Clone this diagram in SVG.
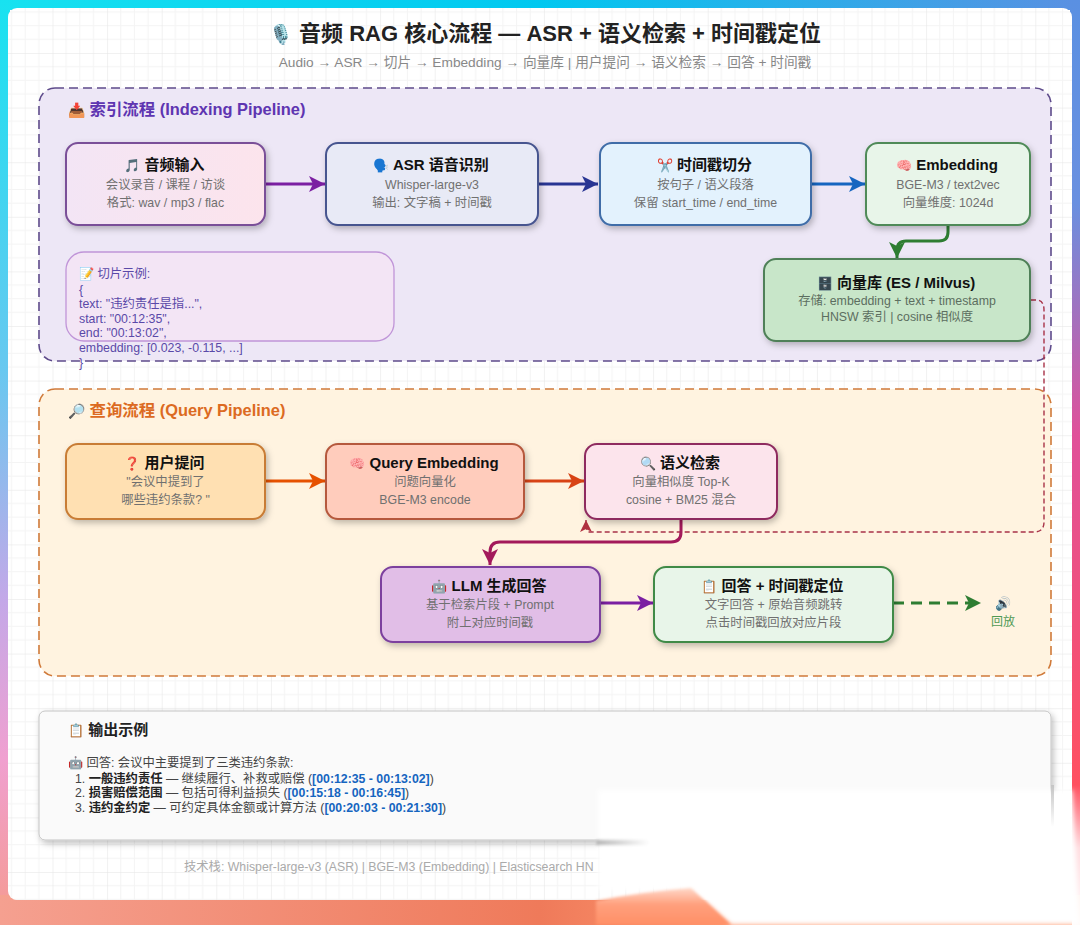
<svg xmlns="http://www.w3.org/2000/svg" width="1080" height="925" viewBox="0 0 1080 925">
<style>
text{font-family:"Liberation Sans","Noto Sans CJK SC",sans-serif}
.t{font-size:15px;font-weight:700;fill:#111;text-anchor:middle}
.e{font-size:13px}
.s{font-size:12.35px;fill:#707070;text-anchor:middle}
.d{fill:#5c6e60}
.n{filter:url(#sh);stroke-width:2}
.c{fill:none;stroke-width:3}
.ex{font-size:12.35px;fill:#5a49a8}
.o{font-size:12.3px;fill:#444}
.ts{font-weight:700;fill:#1565c0}
.bd{font-weight:700;fill:#222}
</style>
<defs>
<linearGradient id="gt"><stop offset="0" stop-color="#18e2f0"/><stop offset=".5" stop-color="#00c8f0"/><stop offset="1" stop-color="#5a90e2"/></linearGradient>
<linearGradient id="gl" x2="0" y2="1"><stop offset="0" stop-color="#18e2f0"/><stop offset=".4" stop-color="#68c8f0"/><stop offset=".65" stop-color="#c4a8e8"/><stop offset=".82" stop-color="#f0a0d0"/><stop offset="1" stop-color="#f59a90"/></linearGradient>
<linearGradient id="gr" x2="0" y2="1"><stop offset="0" stop-color="#5a90e2"/><stop offset=".22" stop-color="#6a90e0"/><stop offset=".47" stop-color="#e0509a"/><stop offset=".85" stop-color="#ff5060"/><stop offset="1" stop-color="#ff5060"/></linearGradient>
<linearGradient id="gb"><stop offset="0" stop-color="#f5a090"/><stop offset=".5" stop-color="#ef7a5a"/><stop offset=".68" stop-color="#ff9a70"/></linearGradient>
<linearGradient id="f1" x2="1"><stop offset="0" stop-color="#f3e5f5"/><stop offset="1" stop-color="#fce4ec"/></linearGradient>
<linearGradient id="fr" x2="0" y2="1"><stop offset="0" stop-color="#fff" stop-opacity="0"/><stop offset=".45" stop-color="#fff" stop-opacity=".8"/><stop offset="1" stop-color="#fff" stop-opacity=".95"/></linearGradient>
<linearGradient id="fs"><stop offset="0" stop-color="#b4b4b4"/><stop offset="1" stop-color="#fff"/></linearGradient>
<linearGradient id="fv" x2="0" y2="1"><stop offset="0" stop-color="#c4c4c4"/><stop offset="1" stop-color="#fff"/></linearGradient>
<linearGradient id="fo" x2="0" y2="1"><stop offset="0" stop-color="#ffd8c8"/><stop offset=".45" stop-color="#ff9f7c"/><stop offset="1" stop-color="#ff8f66"/></linearGradient>
<pattern id="grid" width="54.6" height="54.6" patternUnits="userSpaceOnUse" x="-2.1" y="-1.6">
<path d="M13.65 0V54.6M27.3 0V54.6M40.95 0V54.6M0 13.65H54.6M0 27.3H54.6M0 40.95H54.6" stroke="#f4f4f4" stroke-width="1" fill="none"/>
<path d="M0 0V54.6M0 0H54.6" stroke="#e4e4e4" stroke-width="1" fill="none"/>
</pattern>
<filter id="sh" x="-10%" y="-15%" width="125%" height="135%"><feDropShadow dx="2" dy="3" stdDeviation="3" flood-color="#000" flood-opacity=".25"/></filter>
<filter id="b3" x="-10%" y="-10%" width="120%" height="120%"><feGaussianBlur stdDeviation="2.5"/></filter>
<filter id="b2" x="-30%" y="-200%" width="160%" height="500%"><feGaussianBlur stdDeviation="1.5"/></filter>
<marker id="ap" markerUnits="userSpaceOnUse" markerWidth="17" markerHeight="17" refX="16" refY="8" orient="auto"><path d="M0 0L16 8L0 16L4 8Z" fill="context-stroke"/></marker>
<marker id="ar" markerUnits="userSpaceOnUse" markerWidth="13" markerHeight="13" refX="12" refY="6" orient="auto"><path d="M0 0L12 6L0 12L3 6Z" fill="#b03040"/></marker>
</defs>

<rect width="1080" height="10" fill="url(#gt)"/>
<rect y="0" width="10" height="925" fill="url(#gl)"/>
<rect x="1070" y="0" width="10" height="925" fill="url(#gr)"/>
<rect y="895" width="1080" height="30" fill="url(#gb)"/>
<rect x="8" y="8" width="1064" height="892" rx="9" fill="#fff"/>
<rect x="8" y="8" width="1064" height="892" rx="9" fill="url(#grid)"/>

<text x="545" y="41" font-size="22" font-weight="700" fill="#222" text-anchor="middle"><tspan font-size="19">🎙️</tspan> 音频 RAG 核心流程 — ASR + 语义检索 + 时间戳定位</text>
<text x="545" y="67" font-size="13.7" fill="#888" text-anchor="middle">Audio → ASR → 切片 → Embedding → 向量库 | 用户提问 → 语义检索 → 回答 + 时间戳</text>

<g id="indexing-group">
<rect x="39" y="88" width="1012" height="273" rx="16" fill="#ede7f6" stroke="#5e4b8b" stroke-width="1.6" stroke-dasharray="9 5"/>
<text x="68" y="115" font-size="16.4" font-weight="700" fill="#5e35b1"><tspan font-size="14">📥</tspan> 索引流程 (Indexing Pipeline)</text>
</g>
<g id="query-group">
<rect x="39" y="389" width="1012" height="287" rx="16" fill="#fff3e0" stroke="#d07a3a" stroke-width="1.6" stroke-dasharray="9 5"/>
<text x="68" y="416" font-size="16.4" font-weight="700" fill="#dc6a22"><tspan font-size="14">🔎</tspan> 查询流程 (Query Pipeline)</text>
</g>

<g id="connectors">
<path class="c" d="M265 184H325" stroke="#7b1fa2" marker-end="url(#ap)"/>
<path class="c" d="M538 184H598" stroke="#283593" marker-end="url(#ap)"/>
<path class="c" d="M811 184H865" stroke="#1565c0" marker-end="url(#ap)"/>
<path class="c" d="M948 225V232Q948 241 939 241H906Q897 241 897 250V258" stroke="#2e7d32" marker-end="url(#ap)"/>
<path fill="none" stroke="#a83248" stroke-width="1.4" stroke-dasharray="5 3" d="M1031 300H1036Q1044 300 1044 310V522Q1044 532 1034 532H590Q586 532 586 526V520" marker-end="url(#ar)"/>
<path class="c" d="M265 481H325" stroke="#e65100" marker-end="url(#ap)"/>
<path class="c" d="M525 481H584" stroke="#d84315" marker-end="url(#ap)"/>
<path class="c" d="M681 519V532Q681 542 671 542H500Q490 542 490 552V565" stroke="#a3195b" marker-end="url(#ap)"/>
<path class="c" d="M600 603H653" stroke="#7b1fa2" marker-end="url(#ap)"/>
<path class="c" d="M893 603H981" stroke="#2e7d32" stroke-dasharray="11 7" marker-end="url(#ap)"/>
</g>

<g id="audio-input"><rect class="n" x="66" y="143" width="199" height="82" rx="12" fill="url(#f1)" stroke="#7a4f98"/>
<text class="t" x="164.5" y="170"><tspan class="e">🎵</tspan> 音频输入</text><text class="s" x="165.5" y="188.5">会议录音 / 课程 / 访谈</text><text class="s" x="165.5" y="206.5">格式: wav / mp3 / flac</text></g>
<g id="asr"><rect class="n" x="326" y="143" width="212" height="82" rx="12" fill="#e8eaf6" stroke="#46548f"/>
<text class="t" x="431" y="170"><tspan class="e">🗣️</tspan> ASR 语音识别</text><text class="s" x="432" y="188.5">Whisper-large-v3</text><text class="s" x="432" y="206.5">输出: 文字稿 + 时间戳</text></g>
<g id="split"><rect class="n" x="600" y="143" width="211" height="82" rx="12" fill="#e3f2fd" stroke="#3f6da8"/>
<text class="t" x="704.5" y="170"><tspan class="e">✂️</tspan> 时间戳切分</text><text class="s" x="705.5" y="188.5">按句子 / 语义段落</text><text class="s" x="705.5" y="206.5">保留 start_time / end_time</text></g>
<g id="embedding"><rect class="n" x="866" y="143" width="164" height="82" rx="12" fill="#e8f5e9" stroke="#4f8a58"/>
<text class="t" x="947" y="170"><tspan class="e">🧠</tspan> Embedding</text><text class="s" x="948" y="188.5">BGE-M3 / text2vec</text><text class="s" x="948" y="206.5">向量维度: 1024d</text></g>
<g id="vector-db"><rect class="n" x="764" y="259" width="266" height="82" rx="12" fill="#c8e6c9" stroke="#4f8058"/>
<text class="t" x="896" y="288"><tspan class="e">🗄️</tspan> 向量库 (ES / Milvus)</text><text class="s d" x="897" y="304.5" style="fill:#5c6e60">存储: embedding + text + timestamp</text><text class="s d" x="897" y="321" style="fill:#5c6e60">HNSW 索引 | cosine 相似度</text></g>
<g id="chunk-example"><rect x="66" y="252" width="328" height="89" rx="18" fill="#f3e5f5" stroke="#c095d8" stroke-width="1.3"/>
<text class="ex" x="79" y="278">📝 切片示例:</text><text class="ex" x="79" y="294">{</text><text class="ex" x="79" y="308">text: "违约责任是指...",</text><text class="ex" x="79" y="323">start: "00:12:35",</text><text class="ex" x="79" y="337">end: "00:13:02",</text><text class="ex" x="79" y="352">embedding: [0.023, -0.115, ...]</text><text class="ex" x="79" y="367">}</text></g>

<g id="user-question"><rect class="n" x="66" y="444" width="199" height="75" rx="12" fill="#ffe0b2" stroke="#c87c34"/>
<text class="t" x="164.5" y="468"><tspan class="e">❓</tspan> 用户提问</text><text class="s" x="165.5" y="486">"会议中提到了</text><text class="s" x="165.5" y="504">哪些违约条款? "</text></g>
<g id="query-embedding"><rect class="n" x="326" y="444" width="198" height="75" rx="12" fill="#ffccbc" stroke="#b5583c"/>
<text class="t" x="424" y="468"><tspan class="e">🧠</tspan> Query Embedding</text><text class="s" x="425" y="486">问题向量化</text><text class="s" x="425" y="504">BGE-M3 encode</text></g>
<g id="semantic-search"><rect class="n" x="585" y="444" width="192" height="75" rx="12" fill="#fce4ec" stroke="#8e2a5e"/>
<text class="t" x="680" y="468"><tspan class="e">🔍</tspan> 语义检索</text><text class="s" x="681" y="486">向量相似度 Top-K</text><text class="s" x="681" y="504">cosine + BM25 混合</text></g>
<g id="llm"><rect class="n" x="381" y="567" width="219" height="75" rx="12" fill="#e1bee7" stroke="#7b3f9e"/>
<text class="t" x="489" y="591"><tspan class="e">🤖</tspan> LLM 生成回答</text><text class="s" x="490" y="609">基于检索片段 + Prompt</text><text class="s" x="490" y="627">附上对应时间戳</text></g>
<g id="answer"><rect class="n" x="654" y="567" width="239" height="75" rx="12" fill="#e8f5e9" stroke="#3f8a46"/>
<text class="t" x="772.5" y="591"><tspan class="e">📋</tspan> 回答 + 时间戳定位</text><text class="s" x="773.5" y="609">文字回答 + 原始音频跳转</text><text class="s" x="773.5" y="627">点击时间戳回放对应片段</text></g>
<g id="playback"><text x="1003" y="608" font-size="13" text-anchor="middle">🔊</text><text x="1003" y="626" font-size="12" fill="#4f9a55" text-anchor="middle">回放</text></g>

<g id="output-panel"><rect x="39" y="711" width="1012" height="129" rx="6" fill="#fafafa" stroke="#c4c4c4" filter="url(#sh)"/>
<text x="68" y="735" font-size="15" font-weight="700" fill="#222"><tspan class="e">📋</tspan> 输出示例</text>
<text class="o" x="68" y="767">🤖 回答: 会议中主要提到了三类违约条款:</text>
<text class="o" x="75" y="783">1. <tspan class="bd">一般违约责任</tspan> — 继续履行、补救或赔偿 (<tspan class="ts">[00:12:35 - 00:13:02]</tspan>)</text>
<text class="o" x="75" y="797">2. <tspan class="bd">损害赔偿范围</tspan> — 包括可得利益损失 (<tspan class="ts">[00:15:18 - 00:16:45]</tspan>)</text>
<text class="o" x="75" y="812">3. <tspan class="bd">违约金约定</tspan> — 可约定具体金额或计算方法 (<tspan class="ts">[00:20:03 - 00:21:30]</tspan>)</text>
</g>
<text x="184" y="871" font-size="12.3" fill="#aaa">技术栈: Whisper-large-v3 (ASR) | BGE-M3 (Embedding) | Elasticsearch HN</text>

<path d="M598 790H1072L1080 925H731L691 890H598Z" fill="#fff" filter="url(#b3)"/>
<rect x="1072" y="785" width="8" height="140" fill="url(#fr)"/>
<path d="M596 901Q640 892 691 888L731 925H596Z" fill="url(#fo)" filter="url(#b2)"/>
<rect x="596" y="840" width="54" height="5" fill="url(#fs)" filter="url(#b2)"/>
<rect x="1051" y="785" width="3" height="42" fill="url(#fv)"/>
</svg>
